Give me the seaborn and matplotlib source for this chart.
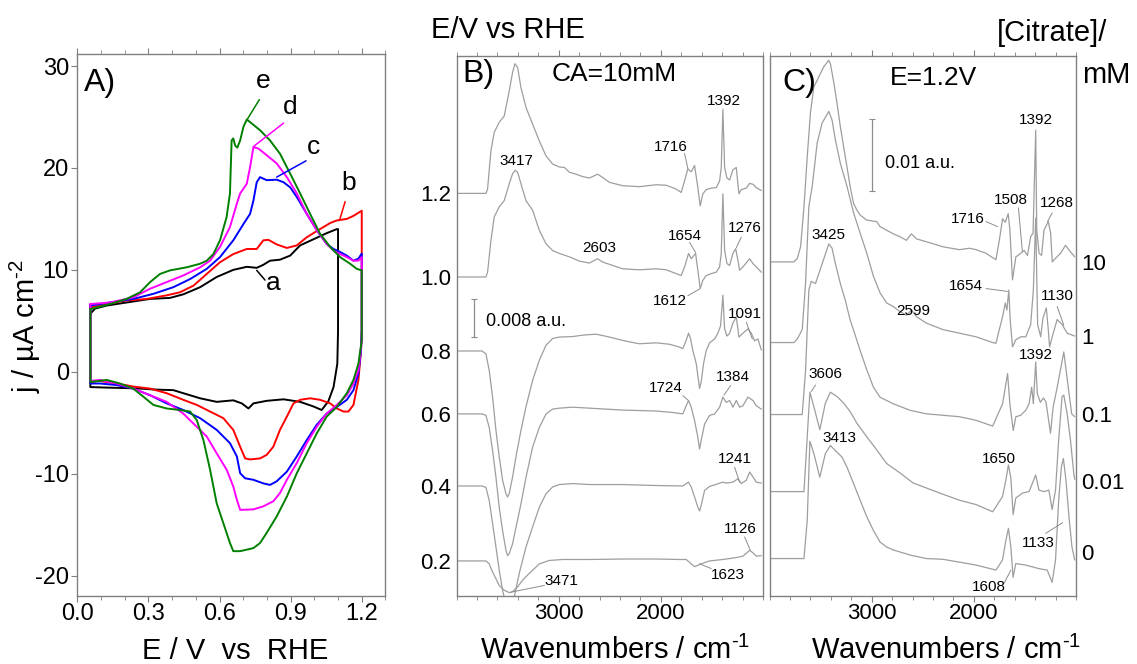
import matplotlib
matplotlib.use("Agg")
import matplotlib.pyplot as plt
import seaborn as sns
import pandas as pd
from matplotlib.ticker import MultipleLocator

sns.set_style("white")
plt.rcParams['font.family'] = ['Liberation Sans', 'DejaVu Sans']
plt.rcParams['mathtext.fontset'] = 'custom'
plt.rcParams['mathtext.rm'] = 'Liberation Sans'
plt.rcParams['mathtext.it'] = 'Liberation Sans:italic'
plt.rcParams['mathtext.bf'] = 'Liberation Sans:bold'
plt.rcParams['axes.unicode_minus'] = False
plt.rcParams['text.color'] = 'black'
plt.rcParams['xtick.labelcolor'] = 'black'
plt.rcParams['ytick.labelcolor'] = 'black'

# ---------------- Panel A: cyclic voltammograms (E / V, j / uA cm-2) ----------------
cv_names = ['a', 'b', 'c', 'd', 'e']
cv_colors = ['#000000', '#ff0000', '#0000ff', '#ff00ff', '#008000']

cv_a_fwd = [(0.055, 5.7), (0.075, 6.2), (0.124, 6.5), (0.208, 6.8), (0.307, 7.15), (0.391, 7.25),
            (0.447, 7.6), (0.518, 8.3), (0.588, 9.3), (0.658, 10.0), (0.715, 10.3), (0.757, 10.2),
            (0.785, 10.5), (0.813, 10.9), (0.855, 11.0), (0.898, 11.4), (0.940, 12.4), (0.996, 13.0),
            (1.052, 13.6), (1.095, 14.0), (1.100, 14.0)]
cv_a_rev = [(1.100, 4.0), (1.097, 0.8), (1.081, -1.5), (1.059, -2.9), (1.031, -3.75), (0.996, -3.4),
            (0.940, -2.95), (0.870, -2.7), (0.799, -2.85), (0.743, -3.1), (0.722, -3.6), (0.694, -3.1),
            (0.658, -2.8), (0.588, -2.95), (0.518, -2.6), (0.447, -2.1), (0.405, -1.8), (0.335, -1.75),
            (0.265, -1.65), (0.208, -1.6), (0.124, -1.55), (0.055, -1.5)]

cv_b_fwd = [(0.055, 6.3), (0.124, 6.65), (0.208, 7.0), (0.293, 7.15), (0.377, 7.5), (0.433, 7.8),
            (0.490, 8.45), (0.546, 9.6), (0.602, 10.75), (0.658, 11.55), (0.715, 12.05), (0.757, 12.05),
            (0.785, 12.9), (0.806, 12.95), (0.841, 12.5), (0.884, 12.15), (0.926, 12.4), (0.968, 13.2),
            (1.024, 14.0), (1.067, 14.6), (1.095, 14.85), (1.137, 15.0), (1.165, 15.3), (1.200, 15.8)]
cv_b_rev = [(1.200, 4.1), (1.197, 2.1), (1.186, -0.8), (1.165, -3.25), (1.144, -3.9), (1.123, -3.9),
            (1.095, -3.6), (1.067, -3.1), (1.024, -2.75), (0.982, -2.6), (0.940, -2.75), (0.912, -3.1),
            (0.884, -4.4), (0.855, -5.7), (0.827, -7.35), (0.799, -8.15), (0.771, -8.5), (0.729, -8.6),
            (0.708, -8.5), (0.687, -7.35), (0.658, -5.7), (0.616, -4.55), (0.560, -3.9), (0.504, -3.25),
            (0.447, -2.75), (0.377, -2.1), (0.307, -1.65), (0.236, -1.45), (0.166, -1.15), (0.096, -0.9),
            (0.055, -1.0)]

cv_c_fwd = [(0.055, 6.5), (0.138, 6.8), (0.236, 7.15), (0.321, 7.65), (0.405, 8.3), (0.476, 9.1),
            (0.546, 10.1), (0.602, 11.25), (0.658, 12.9), (0.701, 14.5), (0.729, 15.5), (0.743, 16.8),
            (0.757, 18.6), (0.771, 19.1), (0.799, 18.8), (0.841, 18.85), (0.870, 18.6), (0.898, 18.1),
            (0.926, 17.15), (0.968, 15.5), (1.010, 13.9), (1.052, 12.55), (1.081, 12.05), (1.109, 11.75),
            (1.137, 11.4), (1.165, 10.9), (1.186, 11.1), (1.200, 11.6)]
cv_c_rev = [(1.200, 4.1), (1.197, 2.1), (1.186, -0.15), (1.165, -1.8), (1.137, -2.75), (1.095, -3.45),
            (1.052, -4.1), (1.010, -5.2), (0.968, -6.7), (0.926, -8.3), (0.884, -9.8), (0.841, -10.75),
            (0.813, -11.1), (0.785, -10.95), (0.743, -10.6), (0.708, -10.45), (0.687, -9.95), (0.673, -8.3),
            (0.644, -7.0), (0.588, -5.7), (0.518, -4.55), (0.447, -3.75), (0.377, -3.1), (0.307, -2.3),
            (0.236, -1.65), (0.166, -1.3), (0.096, -1.15), (0.055, -1.15)]

cv_d_fwd = [(0.055, 6.65), (0.138, 6.8), (0.236, 7.3), (0.307, 8.15), (0.377, 8.8), (0.447, 9.45),
            (0.518, 10.25), (0.560, 10.9), (0.602, 12.25), (0.644, 14.2), (0.673, 16.5), (0.687, 17.5),
            (0.715, 18.45), (0.729, 20.1), (0.743, 22.05), (0.764, 21.9), (0.799, 21.25), (0.841, 20.45),
            (0.884, 19.1), (0.926, 17.5), (0.968, 15.5), (1.010, 13.9), (1.052, 12.55), (1.081, 11.9),
            (1.109, 11.55), (1.137, 11.25), (1.165, 10.9), (1.186, 10.9), (1.200, 11.25)]
cv_d_rev = [(1.200, 3.1), (1.186, 0.15), (1.165, -1.15), (1.137, -2.3), (1.095, -3.25), (1.052, -4.1),
            (1.010, -5.4), (0.968, -7.0), (0.926, -8.95), (0.884, -10.6), (0.855, -11.9), (0.827, -12.7),
            (0.785, -13.2), (0.743, -13.5), (0.687, -13.55), (0.673, -12.55), (0.658, -11.25), (0.630, -9.6),
            (0.588, -8.0), (0.546, -6.35), (0.504, -5.4), (0.447, -4.1), (0.377, -2.95), (0.307, -2.3),
            (0.236, -1.65), (0.166, -1.15), (0.096, -0.8), (0.055, -0.9)]

cv_e_fwd = [(0.055, 6.15), (0.138, 6.65), (0.208, 7.15), (0.265, 7.8), (0.307, 8.8), (0.349, 9.6),
            (0.391, 9.95), (0.461, 10.25), (0.518, 10.6), (0.546, 10.9), (0.574, 11.55), (0.602, 12.9),
            (0.630, 15.2), (0.644, 17.5), (0.651, 22.7), (0.658, 22.9), (0.666, 22.2), (0.675, 22.0),
            (0.687, 22.7), (0.701, 24.05), (0.715, 24.75), (0.729, 24.5), (0.771, 23.7), (0.813, 22.7),
            (0.855, 21.4), (0.898, 19.45), (0.940, 17.5), (0.982, 15.5), (1.024, 13.55), (1.067, 12.25),
            (1.109, 11.25), (1.151, 10.6), (1.179, 10.1), (1.200, 9.95)]
cv_e_rev = [(1.200, 3.1), (1.186, 0.8), (1.165, -0.8), (1.137, -2.1), (1.095, -3.45), (1.052, -4.4),
            (1.010, -6.05), (0.968, -8.0), (0.926, -9.95), (0.884, -12.25), (0.841, -14.2), (0.799, -15.8),
            (0.771, -16.8), (0.743, -17.3), (0.687, -17.6), (0.658, -17.6), (0.644, -16.8), (0.616, -14.85),
            (0.588, -12.9), (0.574, -11.25), (0.560, -9.6), (0.532, -6.7), (0.504, -4.75), (0.476, -3.9),
            (0.433, -3.75), (0.377, -3.6), (0.321, -3.25), (0.279, -2.45), (0.236, -1.65), (0.180, -1.15),
            (0.124, -0.8), (0.055, -1.0)]

cv_forward = [cv_a_fwd, cv_b_fwd, cv_c_fwd, cv_d_fwd, cv_e_fwd]
cv_reverse = [cv_a_rev, cv_b_rev, cv_c_rev, cv_d_rev, cv_e_rev]

# letter position and the leader line (from curve to letter)
cv_letter_pos = [(0.827, 8.7), (1.144, 18.5), (0.996, 22.1), (0.898, 26.0), (0.785, 28.5)]
cv_leaders = [((0.757, 9.95), (0.792, 9.0)), ((1.106, 14.85), (1.130, 16.7)),
              ((0.841, 19.1), (0.965, 20.7)), ((0.743, 22.1), (0.870, 24.4)),
              ((0.715, 24.7), (0.768, 26.7))]

# ---------------- Panel B: spectra at several potentials, [citrate] = 10 mM ----------------
# absorbance in units of 1e-4 a.u., relative to each spectrum's own baseline
b_potentials = ['1.2', '1.0', '0.8', '0.6', '0.4', '0.2']
b_offsets = [838, 664, 510, 379, 229, 73]

b_spec_12 = [(4000, 0), (3712, 0), (3696, 9), (3663, 89), (3631, 127), (3582, 148), (3533, 161), (3484, 213),
             (3451, 252), (3428, 270), (3402, 262), (3369, 220), (3320, 179), (3255, 144), (3189, 109),
             (3124, 78), (3059, 61), (2993, 55), (2944, 54), (2895, 44), (2830, 40), (2765, 35), (2699, 32),
             (2618, 40), (2569, 33), (2503, 23), (2373, 16), (2209, 14), (2046, 18), (1948, 17), (1850, 9),
             (1801, 2), (1768, 26), (1736, 51), (1703, 45), (1670, 58), (1638, 12), (1615, -26), (1589, -1),
             (1556, 8), (1507, 11), (1458, 12), (1425, 26), (1409, 54), (1393, 175), (1376, 54), (1353, 32),
             (1327, 28), (1295, 49), (1262, 54), (1236, -1), (1213, 8), (1164, 11), (1131, 21), (1099, 19),
             (1066, 12), (1017, 6)]
b_spec_10 = [(4000, 0), (3712, 0), (3696, 10), (3663, 76), (3631, 125), (3582, 146), (3533, 159), (3484, 194),
             (3451, 215), (3425, 222), (3402, 218), (3369, 194), (3320, 159), (3255, 139), (3189, 97),
             (3124, 69), (3059, 55), (2993, 49), (2895, 42), (2797, 33), (2699, 29), (2618, 38), (2569, 31),
             (2471, 24), (2373, 17), (2209, 15), (2046, 17), (1948, 15), (1850, 7), (1801, 3), (1768, 21),
             (1729, 49), (1703, 38), (1660, 49), (1638, 14), (1615, -24), (1589, -7), (1556, 3), (1507, 7),
             (1458, 10), (1425, 21), (1409, 49), (1393, 173), (1376, 55), (1353, 28), (1327, 24), (1295, 49),
             (1268, 59), (1246, 35), (1229, 14), (1197, 21), (1131, 38), (1099, 28), (1066, 21), (1017, 10)]
b_spec_08 = [(4000, 0), (3750, 0), (3712, -6), (3680, -40), (3647, -96), (3614, -165), (3582, -220),
             (3549, -269), (3516, -297), (3500, -304), (3484, -297), (3451, -262), (3418, -220), (3369, -165),
             (3320, -116), (3255, -61), (3189, -19), (3124, 12), (3059, 26), (2993, 29), (2863, 30),
             (2765, 33), (2634, 35), (2503, 29), (2373, 22), (2307, 19), (2209, 15), (2046, 17), (1915, 14),
             (1817, 8), (1785, 5), (1752, 22), (1729, 37), (1710, 26), (1687, 1), (1654, -26), (1621, -78),
             (1605, -64), (1582, -26), (1556, 1), (1523, 17), (1474, 25), (1442, 37), (1416, 52), (1393, 116),
             (1376, 46), (1353, 31), (1327, 37), (1295, 58), (1262, 71), (1236, 29), (1197, 37), (1148, 46),
             (1115, 37), (1082, 21), (1050, 25), (1017, 2)]
b_spec_06 = [(4000, 0), (3750, 0), (3712, -3), (3680, -28), (3647, -76), (3614, -132), (3582, -194),
             (3549, -243), (3516, -284), (3500, -295), (3484, -291), (3451, -270), (3418, -236), (3369, -187),
             (3320, -132), (3255, -69), (3189, -28), (3124, 0), (3059, 10), (2993, 12), (2863, 14), (2699, 12),
             (2536, 10), (2373, 8), (2209, 7), (2046, 6), (1883, 3), (1785, 0), (1752, 17), (1729, 28),
             (1703, 14), (1670, -14), (1638, -49), (1621, -73), (1605, -55), (1572, -21), (1523, -3),
             (1474, 0), (1425, 14), (1393, 35), (1360, 24), (1327, 28), (1295, 14), (1262, 28), (1229, 14),
             (1197, 17), (1148, 35), (1099, 28), (1066, 17), (1017, 10)]
b_spec_04 = [(4000, 0), (3750, 0), (3712, -3), (3680, -30), (3647, -78), (3614, -127), (3582, -175),
             (3549, -217), (3516, -248), (3490, -260), (3467, -255), (3435, -231), (3386, -182), (3320, -127),
             (3255, -85), (3189, -44), (3124, -16), (3059, -2), (2993, 3), (2863, 5), (2699, 3), (2373, 3),
             (2046, 1), (1785, 0), (1752, 5), (1729, 8), (1703, -2), (1670, -23), (1638, -44), (1621, -52),
             (1605, -40), (1572, -9), (1523, -1), (1393, 8), (1360, 6), (1295, 8), (1246, 15), (1213, 5),
             (1164, 12), (1131, 29), (1099, 19), (1066, 8), (1017, 6)]
b_spec_02 = [(4000, 0), (3712, 0), (3680, -6), (3647, -23), (3614, -37), (3582, -51), (3533, -61),
             (3484, -66), (3451, -64), (3402, -54), (3353, -40), (3288, -26), (3189, -6), (3091, 1), (2961, 3),
             (2699, 3), (2373, 4), (2046, 4), (1817, 3), (1752, 3), (1703, -6), (1670, -12), (1638, -9),
             (1605, -6), (1523, 0), (1393, 3), (1262, 7), (1197, 10), (1131, 22), (1099, 17), (1066, 10),
             (1017, 11)]
b_spectra = [b_spec_12, b_spec_10, b_spec_08, b_spec_06, b_spec_04, b_spec_02]

b_marks = [("3417", 3418, 906, None), ("1716", 1899, 935, ((1768, 921), (1736, 890))),
           ("1392", 1383, 1031, None), ("2603", 2601, 725, None),
           ("1654", 1762, 750, ((1719, 736), (1660, 715))), ("1276", 1180, 766, ((1213, 747), (1262, 725))),
           ("1612", 1915, 613, ((1736, 625), (1621, 639))), ("1091", 1180, 587, ((1164, 570), (1105, 535))),
           ("1724", 1955, 433, ((1785, 417), (1736, 408))), ("1384", 1295, 456, ((1317, 438), (1383, 418))),
           ("1241", 1278, 286, ((1278, 268), (1229, 237))), ("1126", 1223, 140, ((1180, 123), (1125, 95))),
           ("1623", 1344, 43, ((1507, 57), (1621, 67))), ("3471", 2977, 31, ((3140, 22), (3467, 8)))]

# ---------------- Panel C: spectra at E = 1.2 V for several citrate concentrations ----------------
c_concentrations = ['10', '1', '0.1', '0.01', '0']
c_offsets = [464, 352, 252, 145, 52]
c_label_pos = [464, 361, 253, 160, 61]

c_spec_10 = [(3997, 0), (3761, 0), (3728, 5), (3696, 21), (3663, 76), (3631, 146), (3599, 208), (3566, 243),
             (3534, 252), (3501, 262), (3469, 271), (3420, 280), (3404, 275), (3372, 250), (3339, 220),
             (3307, 188), (3275, 160), (3242, 132), (3210, 104), (3177, 81), (3145, 72), (3113, 65),
             (3048, 58), (2951, 56), (2918, 49), (2854, 44), (2789, 39), (2724, 35), (2660, 30), (2611, 39),
             (2562, 32), (2465, 28), (2303, 21), (2141, 17), (2044, 19), (1979, 17), (1882, 12), (1784, 3),
             (1751, 30), (1719, 60), (1693, 55), (1664, 67), (1648, 45), (1622, -25), (1589, 7), (1541, 12),
             (1508, 16), (1476, 9), (1444, 35), (1421, 40), (1395, 183), (1385, 45), (1362, 12), (1337, 9),
             (1314, 44), (1272, 56), (1249, 40), (1233, 0), (1201, 5), (1152, 12), (1103, 23), (1055, 14),
             (1013, 7)]
c_spec_1 = [(3997, 0), (3761, 0), (3728, 5), (3680, 18), (3647, 83), (3615, 189), (3582, 217), (3534, 277),
            (3485, 305), (3420, 321), (3388, 309), (3356, 282), (3307, 249), (3242, 217), (3177, 180),
            (3113, 152), (3048, 124), (2983, 92), (2918, 69), (2854, 55), (2789, 50), (2724, 43), (2660, 38),
            (2611, 45), (2562, 36), (2465, 27), (2303, 18), (2141, 13), (1979, 8), (1816, 0), (1784, -1),
            (1751, 18), (1719, 36), (1693, 55), (1677, 45), (1658, 73), (1645, 32), (1622, -6), (1589, 4),
            (1541, 8), (1492, 8), (1444, 25), (1418, 73), (1395, 173), (1376, 25), (1346, 8), (1324, 34),
            (1291, 48), (1272, 18), (1259, -6), (1233, 8), (1185, 32), (1136, 25), (1087, 13), (1013, 9)]
c_spec_01 = [(3997, 0), (3696, 0), (3680, 0), (3647, 62), (3615, 173), (3592, 185), (3550, 182),
             (3420, 237), (3388, 231), (3356, 210), (3307, 182), (3259, 159), (3210, 131), (3177, 117),
             (3113, 89), (3048, 62), (2983, 38), (2918, 24), (2789, 15), (2627, 6), (2465, 1), (2303, -1),
             (2141, -3), (1979, -8), (1816, -16), (1719, 15), (1670, 57), (1648, 15), (1615, -22), (1589, -3),
             (1541, -1), (1492, 6), (1460, 15), (1434, 38), (1418, 15), (1395, 73), (1379, 29), (1350, 17),
             (1320, 23), (1295, 18), (1250, -26), (1225, 10), (1190, 34), (1120, 87), (1073, 34), (1043, 1),
             (1013, -3)]
c_spec_001 = [(3997, 0), (3663, 0), (3631, 76), (3605, 138), (3566, 118), (3508, 86), (3453, 123),
              (3404, 138), (3339, 132), (3275, 123), (3210, 111), (3145, 95), (3048, 76), (2951, 58),
              (2854, 39), (2724, 26), (2595, 12), (2465, 5), (2335, -2), (2141, -12), (1979, -18), (1816, -28),
              (1720, -7), (1687, 16), (1662, 37), (1638, 19), (1616, -32), (1590, -9), (1525, -2), (1460, 0),
              (1395, 23), (1363, 2), (1314, 0), (1266, 2), (1234, -25), (1201, 2), (1170, 72), (1137, 132),
              (1120, 134), (1088, 109), (1055, 72), (1023, 26), (1013, 17)]
c_spec_0 = [(3997, 0), (3663, 0), (3631, 53), (3605, 163), (3566, 146), (3508, 113), (3453, 146),
            (3404, 157), (3356, 150), (3291, 141), (3242, 127), (3177, 104), (3113, 81), (3048, 58),
            (2983, 39), (2918, 23), (2854, 16), (2789, 12), (2627, 5), (2465, 0), (2303, -1), (2141, -5),
            (1979, -9), (1784, -16), (1720, -2), (1687, 25), (1662, 42), (1638, 16), (1616, -26), (1590, -7),
            (1493, -9), (1363, -14), (1282, -16), (1234, -33), (1201, -2), (1170, 81), (1144, 127),
            (1124, 139), (1099, 109), (1066, 53), (1040, 16), (1013, -2)]
c_spectra = [c_spec_10, c_spec_1, c_spec_01, c_spec_001, c_spec_0]

c_marks = [("1392", 1395, 661, None), ("1716", 2060, 524, ((1881, 520), (1768, 513))),
           ("1508", 1638, 550, ((1564, 539), (1525, 478))), ("1268", 1191, 546, ((1234, 532), (1279, 520))),
           ("3425", 3421, 501, None), ("1654", 2076, 431, ((1881, 427), (1671, 423))),
           ("2599", 2595, 396, None), ("1130", 1185, 416, ((1185, 402), (1120, 376))),
           ("1392", 1395, 335, None), ("3606", 3453, 309, ((3550, 293), (3592, 284))),
           ("3413", 3317, 220, None), ("1650", 1752, 190, None),
           ("1133", 1370, 74, ((1298, 87), (1130, 102))), ("1608", 1849, 13, ((1703, 18), (1638, 36)))]

# scale bars (a.u.)
b_scale_au = 0.008
c_scale_au = 0.01
AU_UNIT = 1e-4  # data units of panels B and C

SPINE = '#808080'
SPEC = '#9e9e9e'
LEAD = '#8c8c8c'

fig = plt.figure(figsize=(11.37, 6.64), dpi=100)
axA = fig.add_axes([0.0680, 0.1024, 0.2710, 0.8158])
axB = fig.add_axes([0.4015, 0.1024, 0.2696, 0.8140])
axC = fig.add_axes([0.6768, 0.1024, 0.2696, 0.8133])

for ax in (axA, axB, axC):
    for s in ax.spines.values():
        s.set_color(SPINE)
        s.set_linewidth(1.0)
    ax.grid(False)

# ---- Panel A ----
for name, col, fwd, rev in zip(cv_names, cv_colors, cv_forward, cv_reverse):
    pts = fwd + rev + [fwd[0]]
    df = pd.DataFrame(pts, columns=['E', 'j'])
    sns.lineplot(data=df, x='E', y='j', sort=False, estimator=None, color=col, lw=1.4, ax=axA)
for name, col, pos, lead in zip(cv_names, cv_colors, cv_letter_pos, cv_leaders):
    axA.plot([lead[0][0], lead[1][0]], [lead[0][1], lead[1][1]], color=col, lw=1.1)
    axA.text(pos[0], pos[1], name, fontsize=19, ha='center', va='center')

axA.set_xlim(0, 1.3)
axA.set_ylim(-22, 31.15)
axA.set_xticks([0.0, 0.3, 0.6, 0.9, 1.2])
axA.set_xticklabels(['0.0', '0.3', '0.6', '0.9', '1.2'])
axA.xaxis.set_minor_locator(MultipleLocator(0.1))
axA.set_yticks([-20, -10, 0, 10, 20, 30])
axA.set_yticklabels(['-20', '-10', '0', '10', '20', '30'])
axA.tick_params(axis='x', which='both', bottom=True, top=True, direction='out', color=SPINE,
                labelsize=17, pad=1, labelcolor='black')
axA.tick_params(axis='x', which='major', length=4)
axA.tick_params(axis='x', which='minor', length=3)
axA.tick_params(axis='y', which='major', left=True, direction='out', length=4, color=SPINE,
                labelsize=17, pad=2, labelcolor='black')
axA.set_xlabel('')
axA.set_ylabel('')
axA.text(0.074, 0.947, 'A)', transform=axA.transAxes, fontsize=23, ha='center', va='center')
fig.text(235.5 / 1137, 1 - 659 / 664, 'E / V  vs  RHE', fontsize=21, ha='center', va='baseline')
fig.text(25 / 1137, 1 - 326 / 664, r'j / µA cm$^{\text{-2}}$', fontsize=21, ha='center', va='center',
         rotation=90)


def draw_spectra(ax, spectra, offsets, marks):
    for spec, off in zip(spectra, offsets):
        df = pd.DataFrame(spec, columns=['wn', 'dA'])
        df['y'] = df['dA'] + off
        sns.lineplot(data=df, x='wn', y='y', sort=False, estimator=None, color=SPEC, lw=0.9, ax=ax)
    for txt, x, y, lead in marks:
        ax.text(x, y, txt, fontsize=11, ha='center', va='center', color='black')
        if lead is not None:
            ax.plot([lead[0][0], lead[1][0]], [lead[0][1], lead[1][1]], color=LEAD, lw=0.7)
    ax.set_xlim(4000, 1000)
    ax.set_xticks([3000, 2000])
    ax.set_xticklabels(['3000', '2000'])
    ax.xaxis.set_minor_locator(MultipleLocator(200))
    ax.tick_params(axis='x', which='both', bottom=True, top=True, direction='out', color=SPINE,
                   labelsize=16, pad=1, labelcolor='black')
    ax.tick_params(axis='x', which='major', length=4)
    ax.tick_params(axis='x', which='minor', length=3)
    ax.set_xlabel('')
    ax.set_ylabel('')


# ---- Panel B ----
draw_spectra(axB, b_spectra, b_offsets, b_marks)
axB.set_ylim(0, 1125)
axB.set_yticks(b_offsets)
axB.set_yticklabels(b_potentials)
axB.tick_params(axis='y', left=True, length=0, labelsize=16, pad=4, labelcolor='black')
bar_b = b_scale_au / AU_UNIT
axB.errorbar([3827], [539 + bar_b / 2], yerr=[bar_b / 2], color=LEAD, lw=0.9, capsize=2, capthick=0.8)
axB.text(3712, 572, '0.008 a.u.', fontsize=13, ha='left', va='center')
axB.text(3785, 1087, 'B)', fontsize=23, ha='center', va='center')
axB.text(2455, 1087, 'CA=10mM', fontsize=19, ha='center', va='center')
fig.text(615 / 1137, 1 - 659 / 664, r'Wavenumbers / cm$^{\text{-1}}$', fontsize=21, ha='center',
         va='baseline')
fig.text(508 / 1137, 1 - 30 / 664, 'E/V vs RHE', fontsize=21, ha='center', va='center')

# ---- Panel C ----
draw_spectra(axC, c_spectra, c_offsets, c_marks)
axC.set_ylim(0, 750)
axC.yaxis.tick_right()
axC.set_yticks(c_label_pos)
axC.set_yticklabels(c_concentrations)
axC.tick_params(axis='y', right=True, left=False, length=0, labelsize=16, pad=4, labelcolor='black')
bar_c = c_scale_au / AU_UNIT
axC.errorbar([2996], [562 + bar_c / 2], yerr=[bar_c / 2], color=LEAD, lw=0.9, capsize=2, capthick=0.8)
axC.text(2870, 601, '0.01 a.u.', fontsize=13, ha='left', va='center')
axC.text(3712, 712, 'C)', fontsize=23, ha='center', va='center')
axC.text(2400, 719, 'E=1.2V', fontsize=19, ha='center', va='center')
fig.text(946 / 1137, 1 - 659 / 664, r'Wavenumbers / cm$^{\text{-1}}$', fontsize=21, ha='center',
         va='baseline')
fig.text(1052 / 1137, 1 - 33 / 664, '[Citrate]/', fontsize=21, ha='center', va='center')
fig.text(1106 / 1137, 1 - 75 / 664, 'mM', fontsize=21, ha='center', va='center')

fig.savefig('out.png', dpi=100, facecolor='white')
